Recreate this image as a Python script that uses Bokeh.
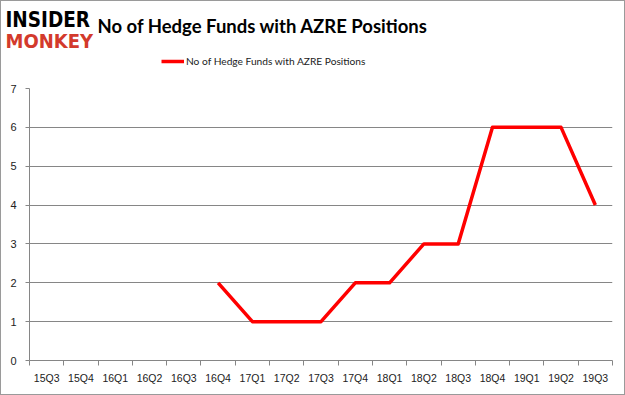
import math
from bokeh.plotting import figure
from bokeh.layouts import column, row
from bokeh.models import Range1d, FixedTicker, Label, Legend, LegendItem, ColumnDataSource
from bokeh.embed import file_html
from bokeh.resources import INLINE

quarters = ["15Q3", "15Q4", "16Q1", "16Q2", "16Q3", "16Q4", "17Q1", "17Q2", "17Q3",
            "17Q4", "18Q1", "18Q2", "18Q3", "18Q4", "19Q1", "19Q2", "19Q3"]
funds = [math.nan, math.nan, math.nan, math.nan, math.nan, 2, 1, 1, 1, 2, 2, 3, 3, 6, 6, 6, 4]
y_ticks = [0, 1, 2, 3, 4, 5, 6, 7]
series_name = "No of Hedge Funds with AZRE Positions"
title_text = "No of Hedge Funds with AZRE Positions"

GRAY = "#868686"
RED = "#ff0000"
W, H_HEAD, H_MAIN = 623, 79, 314

# ---------- header (logo, title, legend) ----------
head = figure(width=W, height=H_HEAD, output_backend="svg", toolbar_location=None,
              x_range=Range1d(0, W), y_range=Range1d(H_HEAD, 0),
              x_axis_type=None, y_axis_type=None,
              min_border_left=0, min_border_right=0, min_border_top=0, min_border_bottom=0)
head.outline_line_color = None
head.grid.grid_line_color = None
head.border_fill_color = "white"

head.add_layout(Label(x=4, y=18, text="INSIDER", text_font="DejaVu Sans Condensed",
                      text_font_style="bold", text_font_size="20.5px",
                      text_baseline="middle", text_color="black"))
head.add_layout(Label(x=4, y=39, text="MONKEY", text_font="DejaVu Sans Condensed",
                      text_font_style="bold", text_font_size="20px",
                      text_baseline="middle", text_color="#d33a2c"))
head.add_layout(Label(x=96, y=24, text=title_text, text_font="Lato", text_font_style="bold",
                      text_font_size="18.5px", text_baseline="middle", text_color="black"))

key = head.line(x=[math.nan], y=[math.nan], line_color=RED, line_width=3.5)
legend = Legend(items=[LegendItem(label=series_name, renderers=[key])],
                location=(160, 13), orientation="horizontal",
                glyph_width=23, glyph_height=10, label_standoff=2, padding=0, margin=0,
                border_line_color=None, background_fill_alpha=0,
                label_text_font="Lato", label_text_font_size="10.2px",
                label_text_color="#222222")
head.add_layout(legend)

# ---------- main chart ----------
p = figure(width=W, height=H_MAIN, output_backend="svg", toolbar_location=None,
           x_range=Range1d(0, len(quarters)), y_range=Range1d(0, 7))
p.min_border_left = 28
p.min_border_right = 12
p.min_border_top = 8
p.min_border_bottom = 34
p.outline_line_color = None
p.border_fill_color = "white"

xs = [i + 0.5 for i in range(len(quarters))]
src = ColumnDataSource(dict(x=xs, y=funds))
p.line("x", "y", source=src, line_color=RED, line_width=3.5, line_join="round")

p.xaxis.ticker = FixedTicker(ticks=xs, minor_ticks=list(range(len(quarters) + 1)))
p.xaxis.major_label_overrides = {x: q for x, q in zip(xs, quarters)}
p.xaxis.major_tick_line_color = None
p.xaxis.major_tick_out = 5
p.xaxis.major_tick_in = 0
p.xaxis.minor_tick_line_color = GRAY
p.xaxis.minor_tick_out = 5
p.xaxis.minor_tick_in = 0
p.xaxis.major_label_standoff = 6
p.xaxis.axis_line_color = GRAY
p.xaxis.major_label_text_font = "Liberation Sans"
p.xaxis.major_label_text_font_size = "10.5px"
p.xaxis.major_label_text_color = "#222222"

p.yaxis.ticker = FixedTicker(ticks=y_ticks, minor_ticks=[])
p.yaxis.major_tick_out = 4
p.yaxis.major_tick_in = 0
p.yaxis.major_tick_line_color = GRAY
p.yaxis.axis_line_color = GRAY
p.yaxis.major_label_standoff = 9
p.yaxis.major_label_text_font = "Liberation Sans"
p.yaxis.major_label_text_font_size = "11px"
p.yaxis.major_label_text_color = "#222222"

p.xgrid.grid_line_color = None
p.ygrid.grid_line_color = GRAY
p.ygrid.grid_line_width = 1

layout = column(row(head), row(p), spacing=0,
                styles={"border": "1px solid #9a9a9a"})
open("out.html", "w").write(file_html(layout, INLINE))
